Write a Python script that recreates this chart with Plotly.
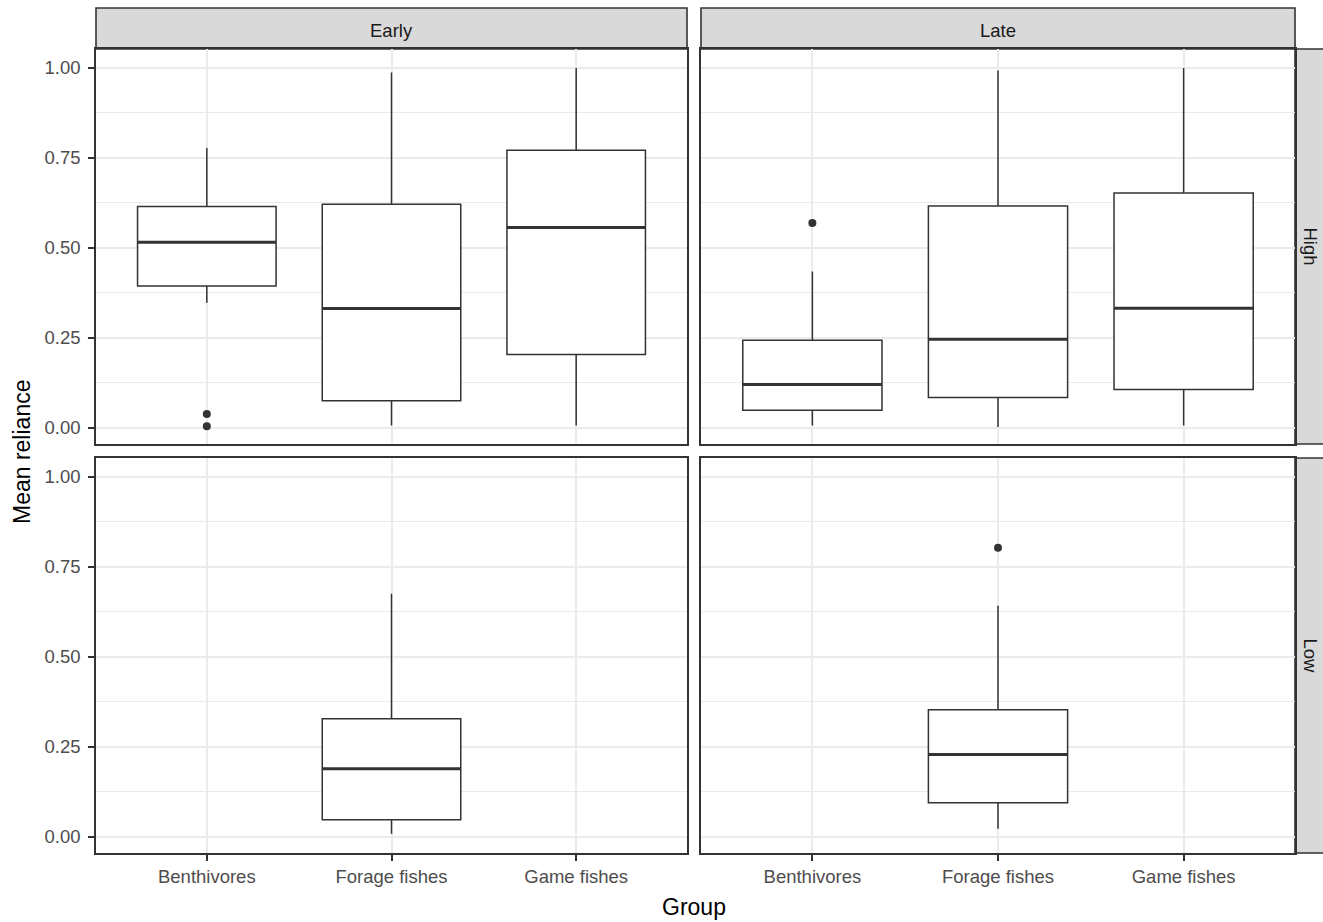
import plotly.graph_objects as go

# Categories on the x axis
groups = ["Benthivores", "Forage fishes", "Game fishes"]

# Early / High
eh_groups = ["Benthivores", "Forage fishes", "Game fishes"]
eh_lower = [0.347, 0.006, 0.006]
eh_q1 = [0.394, 0.075, 0.203]
eh_median = [0.515, 0.331, 0.556]
eh_q3 = [0.615, 0.621, 0.771]
eh_upper = [0.777, 0.987, 1.000]
eh_outliers = [[0.038, 0.004], [], []]

# Late / High
lh_groups = ["Benthivores", "Forage fishes", "Game fishes"]
lh_lower = [0.006, 0.002, 0.006]
lh_q1 = [0.048, 0.084, 0.106]
lh_median = [0.120, 0.246, 0.332]
lh_q3 = [0.243, 0.616, 0.652]
lh_upper = [0.434, 0.993, 1.000]
lh_outliers = [[0.569], [], []]

# Early / Low
el_groups = ["Forage fishes"]
el_lower = [0.008]
el_q1 = [0.047]
el_median = [0.189]
el_q3 = [0.328]
el_upper = [0.675]
el_outliers = [[]]

# Late / Low
ll_groups = ["Forage fishes"]
ll_lower = [0.022]
ll_q1 = [0.094]
ll_median = [0.228]
ll_q3 = [0.353]
ll_upper = [0.642]
ll_outliers = [[0.803]]

y_ticks = [0.0, 0.25, 0.5, 0.75, 1.0]
y_tick_text = ["0.00", "0.25", "0.50", "0.75", "1.00"]

col_labels = ["Early", "Late"]
row_labels = ["High", "Low"]

INK = "#333333"
GRID = "#EBEBEB"
STRIP = "#D9D9D9"
FONT = "Liberation Sans, Arial, sans-serif"
TICK_SIZE = 18.5
TITLE_SIZE = 23
BOX_W = 0.75

W, H = 1323, 922
ML, MR, MT, MB = 96, 0, 8, 69
PW, PH = W - ML - MR, H - MT - MB


def px_x(px):
    return (px - ML) / PW


def px_y(py):
    return (H - MB - py) / PH


col_dom = [(px_x(96), px_x(687)), (px_x(701), px_x(1295))]
row_dom = [(px_y(444), px_y(49)), (px_y(853), px_y(458))]

facets = [
    # (row, col, groups, lower, q1, median, q3, upper, outliers)
    (0, 0, eh_groups, eh_lower, eh_q1, eh_median, eh_q3, eh_upper, eh_outliers),
    (0, 1, lh_groups, lh_lower, lh_q1, lh_median, lh_q3, lh_upper, lh_outliers),
    (1, 0, el_groups, el_lower, el_q1, el_median, el_q3, el_upper, el_outliers),
    (1, 1, ll_groups, ll_lower, ll_q1, ll_median, ll_q3, ll_upper, ll_outliers),
]

fig = go.Figure()
layout = {}

for idx, (r, c, grp, lo, q1, med, q3, up, outl) in enumerate(facets):
    n = idx + 1
    xa = "x" if n == 1 else f"x{n}"
    ya = "y" if n == 1 else f"y{n}"
    xpos = [groups.index(g) + 1 for g in grp]

    fig.add_trace(go.Box(
        x=xpos, q1=q1, median=med, q3=q3, lowerfence=lo, upperfence=up,
        width=BOX_W, whiskerwidth=0, boxpoints=False,
        fillcolor="white", line=dict(color=INK, width=1.5),
        xaxis=xa, yaxis=ya, showlegend=False, hoverinfo="skip",
    ))
    # thicker median bars
    for xp, m in zip(xpos, med):
        fig.add_trace(go.Scatter(
            x=[xp - BOX_W / 2, xp + BOX_W / 2], y=[m, m], mode="lines",
            line=dict(color=INK, width=3), xaxis=xa, yaxis=ya,
            showlegend=False, hoverinfo="skip",
        ))
    ox, oy = [], []
    for xp, vals in zip(xpos, outl):
        for v in vals:
            ox.append(xp)
            oy.append(v)
    if ox:
        fig.add_trace(go.Scatter(
            x=ox, y=oy, mode="markers",
            marker=dict(color=INK, size=8, line=dict(width=0)),
            xaxis=xa, yaxis=ya, showlegend=False, hoverinfo="skip",
        ))

    bottom = r == 1
    left = c == 0
    xkey = "xaxis" if n == 1 else f"xaxis{n}"
    ykey = "yaxis" if n == 1 else f"yaxis{n}"
    layout[xkey] = dict(
        domain=list(col_dom[c]), anchor=ya, range=[0.4, 3.6],
        tickvals=[1, 2, 3], ticktext=groups if bottom else ["", "", ""],
        showticklabels=bottom, ticks="outside" if bottom else "",
        ticklen=6, tickwidth=1.5, tickcolor=INK, ticklabelstandoff=0,
        tickfont=dict(family=FONT, size=TICK_SIZE, color="#4D4D4D"),
        showgrid=True, gridcolor=GRID, gridwidth=1.6, zeroline=False,
        showline=True, mirror=True, linecolor=INK, linewidth=1.6,
        fixedrange=True,
    )
    layout[ykey] = dict(
        domain=list(row_dom[r]), anchor=xa, range=[-0.0455, 1.0525],
        tickvals=y_ticks, ticktext=y_tick_text,
        showticklabels=left, ticks="outside" if left else "",
        ticklen=6, tickwidth=1.5, tickcolor=INK, ticklabelstandoff=4,
        tickfont=dict(family=FONT, size=TICK_SIZE, color="#4D4D4D"),
        showgrid=True, gridcolor=GRID, gridwidth=1.6, zeroline=False,
        minor=dict(tickvals=[0.125, 0.375, 0.625, 0.875], showgrid=True,
                   gridcolor=GRID, gridwidth=0.9, ticks=""),
        showline=True, mirror=True, linecolor=INK, linewidth=1.6,
        fixedrange=True,
    )

shapes = []
annotations = []
# column strips
for c, lab in enumerate(col_labels):
    x0, x1 = col_dom[c]
    shapes.append(dict(type="rect", xref="paper", yref="paper",
                       x0=x0, x1=x1, y0=row_dom[0][1], y1=1.0,
                       fillcolor=STRIP, line=dict(color=INK, width=1.6),
                       layer="below"))
    annotations.append(dict(text=lab, xref="paper", yref="paper",
                            x=(x0 + x1) / 2, y=px_y(30),
                            xanchor="center", yanchor="middle",
                            showarrow=False,
                            font=dict(family=FONT, size=TICK_SIZE, color="#1A1A1A")))
# row strips
for r, lab in enumerate(row_labels):
    y0, y1 = row_dom[r]
    shapes.append(dict(type="rect", xref="paper", yref="paper",
                       x0=col_dom[1][1], x1=px_x(1340), y0=y0, y1=y1,
                       fillcolor=STRIP, line=dict(color=INK, width=1.6),
                       layer="below"))
    annotations.append(dict(text=lab, xref="paper", yref="paper",
                            x=px_x(1310), y=(y0 + y1) / 2, textangle=90,
                            xanchor="center", yanchor="middle",
                            showarrow=False,
                            font=dict(family=FONT, size=TICK_SIZE, color="#1A1A1A")))

# axis titles
annotations.append(dict(text="Group", xref="paper", yref="paper",
                        x=px_x(694), y=px_y(907), xanchor="center", yanchor="middle",
                        showarrow=False,
                        font=dict(family=FONT, size=TITLE_SIZE, color="black")))
annotations.append(dict(text="Mean reliance", xref="paper", yref="paper",
                        x=px_x(22), y=px_y(452), textangle=-90,
                        xanchor="center", yanchor="middle", showarrow=False,
                        font=dict(family=FONT, size=TITLE_SIZE, color="black")))

fig.update_layout(
    width=W, height=H,
    margin=dict(l=ML, r=MR, t=MT, b=MB),
    paper_bgcolor="white", plot_bgcolor="white",
    shapes=shapes, annotations=annotations, showlegend=False,
    **layout,
)

fig.write_html("out.html", config={"displayModeBar": False})
